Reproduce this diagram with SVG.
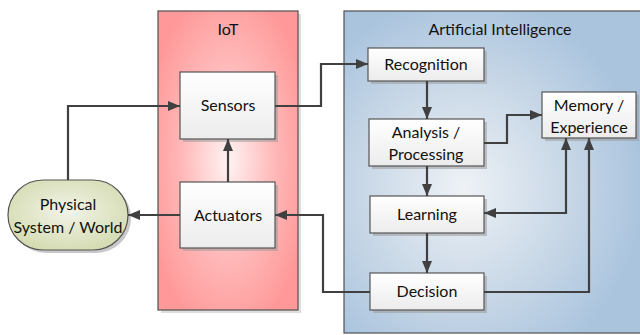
<svg xmlns="http://www.w3.org/2000/svg" width="640" height="335" viewBox="0 0 640 335">
<defs>
<radialGradient id="gIoT" cx="0.5" cy="0.5" r="0.6">
<stop offset="0" stop-color="#fff3f3"/>
<stop offset="0.55" stop-color="#ffb8b8"/>
<stop offset="1" stop-color="#ff9898"/>
</radialGradient>
<radialGradient id="gAI" cx="0.4" cy="0.55" r="0.6">
<stop offset="0" stop-color="#eef2f6"/>
<stop offset="0.6" stop-color="#c6d6e6"/>
<stop offset="1" stop-color="#aac4de"/>
</radialGradient>
<linearGradient id="gBox" x1="0" y1="0" x2="0" y2="1">
<stop offset="0" stop-color="#ffffff"/>
<stop offset="1" stop-color="#ececec"/>
</linearGradient>
<radialGradient id="gPhys" cx="0.5" cy="0.45" r="0.6">
<stop offset="0" stop-color="#f2f4e8"/>
<stop offset="1" stop-color="#d3dbb0"/>
</radialGradient>
<marker id="arr" viewBox="0 0 12 10" refX="12" refY="5" markerWidth="12" markerHeight="10" markerUnits="userSpaceOnUse" orient="auto-start-reverse">
<path d="M0,0 L12,5 L0,10 Z" fill="#404040"/>
</marker>
</defs>
<style>
.panel{stroke:#505050;stroke-width:1.2}
.shadow{fill:#9a9a9a;opacity:0.55}
.pshadow{fill:#c8c8c8;opacity:0.6}
.box{fill:url(#gBox);stroke:#555;stroke-width:1.2}
.t{font-family:Lato,"Open Sans","Liberation Sans",sans-serif;font-size:16px;fill:#111;text-anchor:middle}
.c{fill:none;stroke:#404040;stroke-width:2.2}
</style>
<g id="iot-panel">
<rect class="pshadow" x="161" y="14" width="140" height="299"/>
<rect class="panel" x="158" y="11" width="140" height="299" fill="url(#gIoT)"/>
<text class="t" x="228" y="35">IoT</text>
</g>
<g id="ai-panel">
<rect class="panel" x="344" y="11" width="300" height="322" fill="url(#gAI)"/>
<text class="t" x="500" y="35">Artificial Intelligence</text>
</g>
<g id="physical">
<rect class="shadow" x="11" y="183" width="120" height="70" rx="35"/>
<rect x="8" y="180" width="120" height="70" rx="35" fill="url(#gPhys)" stroke="#555" stroke-width="1.2"/>
<text class="t" x="68" y="210">Physical</text>
<text class="t" x="68" y="233">System / World</text>
</g>
<g id="sensors">
<rect class="shadow" x="183" y="75" width="95" height="67"/>
<rect class="box" x="180" y="72" width="95" height="67"/>
<text class="t" x="228" y="111">Sensors</text>
</g>
<g id="actuators">
<rect class="shadow" x="183" y="185" width="95" height="66"/>
<rect class="box" x="180" y="182" width="95" height="66"/>
<text class="t" x="228" y="221">Actuators</text>
</g>
<g id="recognition">
<rect class="shadow" x="371" y="51" width="116" height="33"/>
<rect class="box" x="368" y="48" width="116" height="33"/>
<text class="t" x="426" y="70">Recognition</text>
</g>
<g id="analysis">
<rect class="shadow" x="372" y="122" width="115" height="47"/>
<rect class="box" x="369" y="119" width="115" height="47"/>
<text class="t" x="426" y="138">Analysis /</text>
<text class="t" x="426" y="160">Processing</text>
</g>
<g id="memory">
<rect class="shadow" x="545" y="95" width="94" height="46"/>
<rect class="box" x="542" y="92" width="94" height="46"/>
<text class="t" x="589" y="111">Memory /</text>
<text class="t" x="589" y="133">Experience</text>
</g>
<g id="learning">
<rect class="shadow" x="373" y="199" width="114" height="37"/>
<rect class="box" x="370" y="196" width="114" height="37"/>
<text class="t" x="427" y="220">Learning</text>
</g>
<g id="decision">
<rect class="shadow" x="373" y="276" width="114" height="37"/>
<rect class="box" x="370" y="273" width="114" height="37"/>
<text class="t" x="427" y="297">Decision</text>
</g>
<g id="connectors">
<path class="c" d="M68,180 V106 H180" marker-end="url(#arr)"/>
<path class="c" d="M180,215 H128" marker-end="url(#arr)"/>
<path class="c" d="M228,182 V139" marker-end="url(#arr)"/>
<path class="c" d="M275,106 H321 V64 H368" marker-end="url(#arr)"/>
<path class="c" d="M370,292 H323 V215 H275" marker-end="url(#arr)"/>
<path class="c" d="M427,81 V119" marker-end="url(#arr)"/>
<path class="c" d="M484,143 H507 V115 H542" marker-end="url(#arr)"/>
<path class="c" d="M427,166 V196" marker-end="url(#arr)"/>
<path class="c" d="M566,138 V213 H484" marker-start="url(#arr)" marker-end="url(#arr)"/>
<path class="c" d="M427,233 V273" marker-end="url(#arr)"/>
<path class="c" d="M484,292 H589 V138" marker-end="url(#arr)"/>
</g>
</svg>
